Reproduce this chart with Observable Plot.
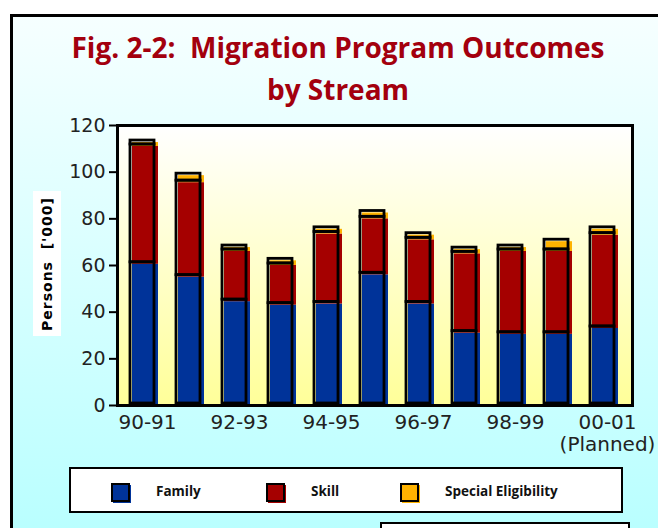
<!DOCTYPE html>
<html>
<head>
<meta charset="utf-8">
<script src="https://cdn.jsdelivr.net/npm/d3@7"></script>
<script src="https://cdn.jsdelivr.net/npm/@observablehq/plot@0.6"></script>
<style>
  html, body { margin: 0; padding: 0; background: #fff; }
  #page { position: relative; width: 658px; height: 528px; overflow: hidden; background: #fff; }
  #frame { position: absolute; left: 10px; top: 14px; width: 700px; height: 600px;
    border-left: 3px solid #000; border-top: 3px solid #000;
    background: linear-gradient(to bottom, #f6ffff 0px, #b9ffff 514px); }
  .title { position: absolute; left: 0; width: 676px; text-align: center; white-space: pre;
    font-family: "Open Sans", sans-serif; font-weight: 700; font-size: 28px; color: #a3000e; line-height: 1; }
  #ylab { position: absolute; left: 33px; top: 191px; width: 28px; height: 145px; background: #fff;
    display: flex; align-items: center; justify-content: center; }
  #ylab span { writing-mode: vertical-rl; transform: rotate(180deg); white-space: pre;
    font-family: "DejaVu Sans", sans-serif; font-weight: 700; font-size: 14px; letter-spacing: 1px; color: #000; }
  #chart { position: absolute; left: 0; top: 110px; }
  #legend { position: absolute; left: 69px; top: 467px; width: 550px; height: 42px; background: #fff;
    border: 2.5px solid #000; }
  .sw { position: absolute; top: 16px; width: 18px; height: 18px; }
  .sw::after { content: ""; position: absolute; left: -2px; top: -2px; width: 15px; height: 15px; border: 2.5px solid #000; }
  .lt { position: absolute; top: 13px; font-family: "Open Sans", sans-serif; font-weight: 700; font-size: 13.5px; color: #111; }
  #box2 { position: absolute; left: 380px; top: 522px; width: 246px; height: 30px; background: #fff; border: 2px solid #000; }
</style>
</head>
<body>
<div id="page">
  <div id="frame"></div>
  <div class="title" style="top:33px">Fig. 2-2:  Migration Program Outcomes</div>
  <div class="title" style="top:75px">by Stream</div>
  <div id="ylab"><span>Persons  ['000]</span></div>
  <div id="chart"></div>
  <div id="legend"></div>
  <div id="box2"></div>
</div>
<script>
const years = ["90-91","91-92","92-93","93-94","94-95","95-96","96-97","97-98","98-99","99-00","00-01"];
const streams = ["Family","Skill","Special Eligibility"];
const colors = ["#003399","#a50000","#ffb300"];
const family  = [60.5, 55, 44.5, 43, 43.5, 56, 43.5, 31, 30.5, 30.5, 33];
const skill   = [50.5, 40.5, 21.5, 17, 30, 24, 27.5, 34, 35.5, 35.5, 40];
const special = [1.7, 3, 1.7, 2, 2, 2.5, 2, 1.8, 1.7, 4.2, 2.5];
const yTicks = [0, 20, 40, 60, 80, 100, 120];
const shownLabels = {"90-91":"90-91","92-93":"92-93","94-95":"94-95","96-97":"96-97","98-99":"98-99","00-01":"00-01\n(Planned)"};

const series = [family, skill, special];
const data = [];
years.forEach((yr, i) => {
  streams.forEach((s, j) => data.push({year: yr, stream: s, value: series[j][i]}));
});

const plot = Plot.plot({
  width: 658,
  height: 355,
  marginTop: 15,
  marginBottom: 60,
  marginLeft: 117,
  marginRight: 26,
  style: {background: "transparent", color: "#000", overflow: "visible"},
  x: {domain: years, paddingInner: 0.44, paddingOuter: 0.22, label: null},
  y: {domain: [0, 120], label: null},
  color: {domain: streams, range: colors},
  marks: [
    Plot.frame({fill: "url(#plotbg)", stroke: null}),
    Plot.barY(data, {x: "year", y: "value", fill: "stream"}),
    Plot.barY(data, {x: "year", y: "value", z: "stream", fill: "none", stroke: "#000", strokeWidth: 2.8, dx: -2, dy: -2, insetRight: 2}),
    Plot.frame({stroke: "#000", strokeWidth: 3}),
    Plot.axisY({ticks: yTicks, tickSize: 8, tickPadding: 4, strokeWidth: 2, fontSize: 19, fontFamily: "DejaVu Sans", fill: "#222"}),
    Plot.axisX({tickSize: 0, tickPadding: 8, fontSize: 20, fontFamily: "DejaVu Sans", fill: "#222", lineHeight: 1.1, dx: 2,
      tickFormat: d => shownLabels[d] || ""})
  ]
});

const ns = "http://www.w3.org/2000/svg";
const defs = document.createElementNS(ns, "defs");
defs.innerHTML = '<linearGradient id="plotbg" x1="0" y1="0" x2="0" y2="1"><stop offset="0" stop-color="#ffffff"/><stop offset="1" stop-color="#ffff99"/></linearGradient>';
plot.insertBefore(defs, plot.firstChild);
document.getElementById("chart").appendChild(plot);

// legend built from the same arrays
const legend = document.getElementById("legend");
const swX = [42, 197, 331];
const txX = [85, 240, 374];
streams.forEach((s, j) => {
  const sw = document.createElement("div");
  sw.className = "sw";
  sw.style.left = swX[j] + "px";
  sw.style.background = colors[j];
  legend.appendChild(sw);
  const t = document.createElement("div");
  t.className = "lt";
  t.style.left = txX[j] + "px";
  t.textContent = s;
  legend.appendChild(t);
});
</script>
</body>
</html>
